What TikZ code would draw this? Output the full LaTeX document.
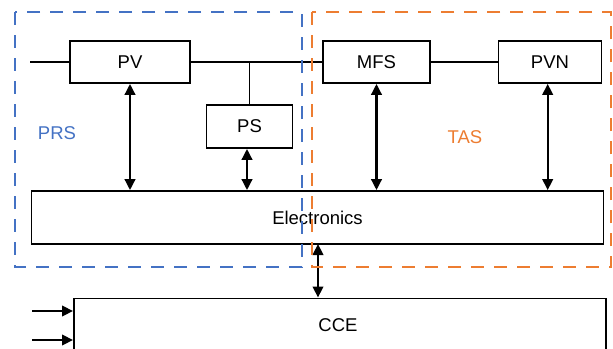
\documentclass[tikz,border=0pt]{standalone}
\usepackage{fontspec}
\setmainfont{Liberation Sans}
\usetikzlibrary{arrows.meta}
\definecolor{prsblue}{HTML}{4472C4}
\definecolor{tasorange}{HTML}{ED7D31}
\begin{document}
\begin{tikzpicture}[x=1pt,y=-1pt,
  blk/.style={draw=black,line width=1.8pt,inner sep=0pt,font=\fontsize{18.5}{21}\selectfont},
  grp/.style={line width=2pt,dash pattern=on 13pt off 10pt},
  link/.style={line width=1.8pt},
  biarrow/.style={line width=2.4pt,{Triangle[length=11pt,width=10.5pt]}-{Triangle[length=11pt,width=10.5pt]}},
  inarrow/.style={line width=2.4pt,-{Triangle[length=11pt,width=10.5pt]}},
  lbl/.style={font=\fontsize{18.5}{21}\selectfont}]
\useasboundingbox (0,0) rectangle (613,348);
\fill[white] (0,0) rectangle (613,348);
\node[lbl,text=prsblue] (prs) at (57,133) {PRS};
\node[lbl,text=tasorange] (tas) at (465,137) {TAS};
% blocks
\node[blk,minimum width=120pt,minimum height=42pt] (pv) at (130,62) {PV};
\node[blk,minimum width=86pt,minimum height=43pt] (ps) at (249.5,126.5) {PS};
\node[blk,minimum width=107pt,minimum height=42pt] (mfs) at (376.5,62) {MFS};
\node[blk,minimum width=103pt,minimum height=42pt] (pvn) at (550,62) {PVN};
\node[blk,minimum width=572pt,minimum height=53pt] (el) at (317.5,217.5) {Electronics};
\node[blk,minimum width=532pt,minimum height=80pt,anchor=north west] (cce) at (73,297.5) {};
\node[lbl] (ccet) at (338,325) {CCE};
% line connections
\coordinate (lin) at (30,62);
\coordinate (jn) at (249.5,62);
\draw[link] (lin) -- (pv.west);
\draw[link] (pv.east) -- (mfs.west);
\draw[link] (mfs.east) -- (pvn.west);
\draw[link] (ps.north) -- (jn);
% bidirectional arrows
\draw[biarrow] (pv.south) -- (pv.south |- el.north);
\draw[biarrow] ([xshift=-2.5pt]ps.south) -- ([xshift=-2.5pt]ps.south |- el.north);
\draw[biarrow] (mfs.south) -- (mfs.south |- el.north);
\draw[biarrow] ([xshift=-2.3pt]pvn.south) -- ([xshift=-2.3pt]pvn.south |- el.north);
\coordinate (elb) at (318,244);
\draw[biarrow] (elb) -- (elb |- cce.north);
% inputs to CCE
\coordinate (in1) at (32,311);
\coordinate (in2) at (32,340);
\draw[inarrow] (in1) -- (in1 -| cce.west);
\draw[inarrow] (in2) -- (in2 -| cce.west);
% group frames
\draw[grp,prsblue] (15,12) rectangle (301.5,267);
\draw[grp,tasorange] (312,12) rectangle (611,267);
\end{tikzpicture}
\end{document}
